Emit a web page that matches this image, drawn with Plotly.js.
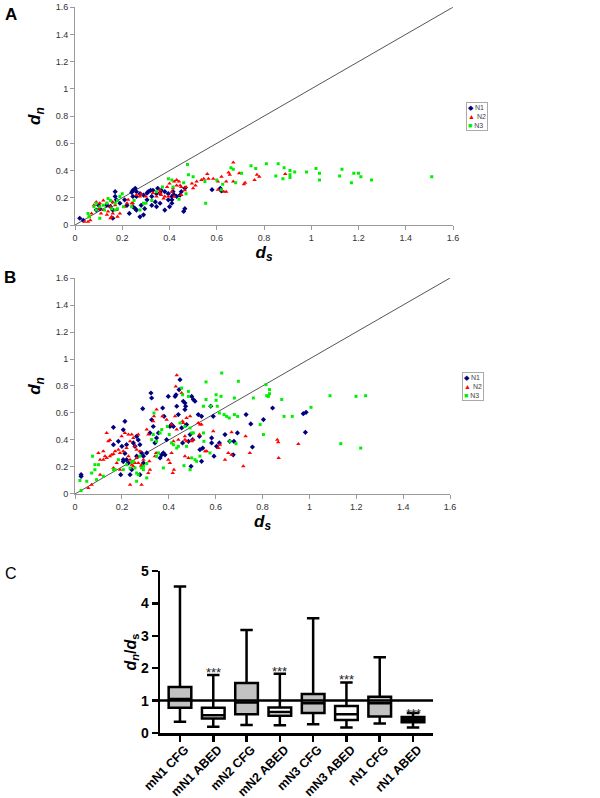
<!DOCTYPE html>
<html>
<head>
<meta charset="utf-8">
<script src="https://cdn.plot.ly/plotly-3.0.1.min.js"></script>
<style>html,body{margin:0;padding:0;background:#fff}#chart{width:600px;height:798px}</style>
</head>
<body>
<div id="chart"></div>
<script>
// ---------- Panel A data (ds, dn) ----------
const seriesNames = ['N1', 'N2', 'N3'];

const aN1x = [0.255,0.245,0.24,0.26,0.245,0.26,0.275,0.29,0.305,0.31,0.33,0.345,0.36,0.38,0.395,0.41,0.42,0.41,0.395,0.38,0.40,0.41,0.465,0.46,0.445,0.45,0.465,0.615,0.62,0.58,0.245,0.255,0.23,0.26,0.22,0.21,0.19,0.17,0.17,0.175,0.16,0.15,0.16,0.275,0.29,0.28,0.295,0.325,0.34,0.345,0.36,0.325,0.305,0.02,0.035,0.09,0.105,0.10,0.135,0.32,0.35,0.365,0.415,0.43];
const aN1y = [0.27,0.255,0.24,0.245,0.21,0.21,0.23,0.22,0.235,0.245,0.255,0.23,0.235,0.245,0.23,0.21,0.22,0.185,0.185,0.11,0.135,0.16,0.12,0.10,0.22,0.245,0.27,0.27,0.25,0.26,0.135,0.12,0.085,0.11,0.145,0.185,0.16,0.245,0.21,0.185,0.05,0.135,0.11,0.06,0.075,0.145,0.12,0.145,0.17,0.135,0.16,0.21,0.185,0.05,0.035,0.11,0.12,0.145,0.145,0.255,0.27,0.255,0.245,0.21];

const aN2x = [0.67,0.695,0.715,0.72,0.76,0.77,0.78,0.89,0.65,0.655,0.64,0.63,0.67,0.62,0.585,0.56,0.605,0.545,0.515,0.50,0.51,0.495,0.47,0.465,0.45,0.445,0.43,0.43,0.415,0.41,0.395,0.38,0.365,0.375,0.36,0.345,0.45,0.42,0.30,0.28,0.275,0.245,0.22,0.21,0.19,0.175,0.16,0.155,0.15,0.14,0.135,0.12,0.11,0.105,0.10,0.09,0.08,0.07,0.065,0.04,0.055,0.17,0.16,0.18,0.15,0.135,0.12,0.225,0.24,0.26,0.33,0.36,0.39,0.40,0.42,0.44,0.535,0.565,0.605,0.64];
const aN2y = [0.46,0.38,0.30,0.31,0.33,0.37,0.355,0.375,0.385,0.37,0.32,0.245,0.32,0.355,0.34,0.375,0.32,0.34,0.32,0.27,0.29,0.305,0.28,0.255,0.28,0.29,0.29,0.33,0.27,0.245,0.21,0.21,0.22,0.195,0.235,0.21,0.22,0.21,0.21,0.23,0.21,0.16,0.16,0.135,0.085,0.11,0.085,0.06,0.135,0.10,0.075,0.11,0.085,0.16,0.12,0.17,0.145,0.085,0.035,0.025,0.025,0.145,0.17,0.06,0.05,0.16,0.18,0.185,0.16,0.22,0.235,0.255,0.28,0.305,0.32,0.32,0.33,0.34,0.26,0.245];

const aN3x = [1.51,1.255,1.20,1.21,1.18,1.17,1.13,1.12,1.035,1.035,1.02,0.98,0.93,0.91,0.91,0.91,0.885,0.86,0.85,0.88,0.81,0.765,0.745,0.705,0.67,0.66,0.68,0.625,0.62,0.60,0.55,0.553,0.476,0.48,0.50,0.46,0.47,0.44,0.415,0.395,0.41,0.37,0.345,0.325,0.30,0.29,0.275,0.25,0.24,0.20,0.19,0.18,0.17,0.15,0.14,0.135,0.12,0.105,0.09,0.08,0.055,0.105,0.17,0.155,0.18,0.205,0.125,0.06,0.06,0.09];
const aN3y = [0.355,0.33,0.38,0.355,0.38,0.31,0.41,0.36,0.33,0.38,0.415,0.39,0.39,0.40,0.37,0.35,0.42,0.45,0.36,0.34,0.45,0.415,0.435,0.38,0.41,0.42,0.31,0.30,0.26,0.33,0.32,0.16,0.445,0.37,0.355,0.31,0.23,0.19,0.28,0.34,0.33,0.28,0.245,0.18,0.16,0.16,0.11,0.18,0.135,0.23,0.21,0.18,0.16,0.18,0.195,0.16,0.145,0.135,0.16,0.135,0.085,0.05,0.11,0.12,0.12,0.135,0.11,0.06,0.06,0.11];

// ---------- Panel B data (ds, dn) ----------
const bN1x = [0.026,0.026,0.164,0.185,0.164,0.20,0.195,0.22,0.213,0.206,0.206,0.22,0.228,0.235,0.242,0.249,0.256,0.263,0.27,0.277,0.284,0.292,0.289,0.263,0.277,0.292,0.306,0.32,0.324,0.327,0.327,0.334,0.341,0.348,0.356,0.363,0.37,0.377,0.384,0.374,0.38,0.391,0.398,0.405,0.412,0.42,0.427,0.431,0.434,0.441,0.444,0.448,0.455,0.459,0.462,0.469,0.472,0.469,0.476,0.484,0.491,0.498,0.505,0.512,0.502,0.495,0.526,0.531,0.533,0.54,0.545,0.54,0.579,0.583,0.583,0.59,0.593,0.604,0.616,0.64,0.66,0.675,0.693,0.678,0.73,0.75,0.757,0.804,0.843,0.974,0.986,0.983,0.213,0.206];
const bN1y = [0.143,0.13,0.494,0.39,0.365,0.353,0.143,0.365,0.30,0.254,0.24,0.254,0.23,0.143,0.18,0.378,0.353,0.427,0.40,0.365,0.304,0.28,0.632,0.28,0.143,0.23,0.304,0.452,0.748,0.711,0.55,0.50,0.378,0.415,0.452,0.267,0.29,0.304,0.29,0.637,0.575,0.402,0.723,0.50,0.514,0.50,0.723,0.735,0.65,0.588,0.773,0.847,0.489,0.378,0.687,0.674,0.65,0.625,0.514,0.39,0.44,0.723,0.70,0.687,0.402,0.205,0.588,0.427,0.328,0.242,0.34,0.575,0.65,0.415,0.378,0.575,0.28,0.353,0.378,0.44,0.39,0.29,0.452,0.39,0.588,0.519,0.348,0.551,0.637,0.595,0.605,0.457,0.538,0.475];

const bN2x = [0.434,0.43,0.455,0.427,0.412,0.135,0.142,0.149,0.121,0.10,0.107,0.121,0.128,0.135,0.149,0.156,0.164,0.171,0.185,0.199,0.213,0.228,0.242,0.249,0.256,0.263,0.27,0.277,0.192,0.206,0.22,0.228,0.235,0.242,0.235,0.249,0.256,0.263,0.27,0.284,0.282,0.292,0.178,0.164,0.192,0.107,0.071,0.057,0.235,0.284,0.306,0.313,0.334,0.337,0.317,0.313,0.32,0.346,0.341,0.348,0.373,0.391,0.398,0.405,0.412,0.42,0.422,0.417,0.434,0.441,0.459,0.462,0.476,0.469,0.469,0.476,0.469,0.484,0.491,0.498,0.505,0.526,0.533,0.54,0.531,0.555,0.562,0.59,0.612,0.619,0.64,0.654,0.668,0.668,0.728,0.718,0.746,0.863,0.867,0.869,0.953];
const bN2y = [0.88,0.797,0.748,0.575,0.514,0.452,0.39,0.40,0.316,0.304,0.254,0.254,0.28,0.267,0.28,0.29,0.296,0.316,0.328,0.427,0.452,0.44,0.44,0.415,0.353,0.328,0.44,0.316,0.304,0.316,0.34,0.28,0.254,0.217,0.39,0.205,0.23,0.267,0.23,0.217,0.205,0.254,0.23,0.193,0.18,0.143,0.069,0.044,0.069,0.069,0.477,0.44,0.538,0.575,0.242,0.155,0.18,0.304,0.28,0.625,0.575,0.55,0.254,0.23,0.304,0.39,0.18,0.155,0.477,0.402,0.538,0.526,0.563,0.427,0.402,0.39,0.28,0.267,0.575,0.39,0.402,0.526,0.514,0.514,0.44,0.316,0.316,0.464,0.34,0.365,0.254,0.304,0.29,0.457,0.427,0.205,0.304,0.402,0.383,0.267,0.37];

const bN3x = [0.021,0.026,0.05,0.071,0.075,0.085,0.085,0.092,0.10,0.121,0.164,0.171,0.185,0.206,0.22,0.235,0.242,0.249,0.256,0.263,0.263,0.27,0.277,0.284,0.292,0.292,0.306,0.306,0.327,0.334,0.337,0.348,0.348,0.356,0.363,0.37,0.377,0.394,0.402,0.412,0.42,0.434,0.441,0.448,0.455,0.459,0.465,0.469,0.476,0.484,0.484,0.491,0.491,0.498,0.498,0.505,0.512,0.519,0.533,0.548,0.548,0.55,0.559,0.559,0.576,0.579,0.602,0.602,0.607,0.616,0.623,0.626,0.636,0.647,0.658,0.661,0.68,0.68,0.697,0.694,0.687,0.761,0.79,0.804,0.815,0.818,0.83,0.83,0.825,0.882,0.892,0.927,1.007,1.088,1.199,1.24,1.134,1.219];
const bN3y = [0.10,0.025,0.094,0.155,0.28,0.217,0.18,0.106,0.217,0.131,0.18,0.18,0.254,0.18,0.217,0.193,0.235,0.242,0.193,0.155,0.094,0.143,0.28,0.193,0.18,0.205,0.119,0.225,0.402,0.44,0.60,0.39,0.28,0.304,0.452,0.477,0.193,0.50,0.44,0.378,0.365,0.34,0.353,0.526,0.785,0.735,0.21,0.50,0.353,0.76,0.723,0.489,0.18,0.267,0.452,0.452,0.254,0.242,0.28,0.65,0.452,0.39,0.83,0.70,0.304,0.65,0.735,0.694,0.65,0.60,0.723,0.896,0.588,0.575,0.563,0.39,0.711,0.588,0.835,0.575,0.373,0.711,0.514,0.44,0.81,0.728,0.773,0.743,0.723,0.70,0.575,0.575,0.642,0.728,0.723,0.728,0.373,0.34];

// diagonal reference (dn = ds)
const diagX = [0, 1.6];
const diagY = [0, 1.6];

// ---------- Panel C data (dn/ds box summaries) ----------
const boxCats = ['mN1 CFG','mN1 ABED','mN2 CFG','mN2 ABED','mN3 CFG','mN3 ABED','rN1 CFG','rN1 ABED'];
const boxLow  = [0.35, 0.19, 0.25, 0.24, 0.27, 0.17, 0.29, 0.17];
const boxQ1   = [0.78, 0.45, 0.58, 0.53, 0.62, 0.40, 0.51, 0.33];
const boxMed  = [1.05, 0.55, 0.94, 0.65, 0.92, 0.58, 0.92, 0.41];
const boxQ3   = [1.42, 0.78, 1.54, 0.79, 1.20, 0.83, 1.12, 0.49];
const boxHigh = [4.52, 1.79, 3.18, 1.83, 3.54, 1.56, 2.34, 0.62];
const sigCats = ['mN1 ABED','mN2 ABED','mN3 ABED','rN1 ABED'];
const sigY    = [1.95, 1.98, 1.75, 0.71];
const sigText = '***';
const refLine = 1;

// ---------- styles ----------
const FONT = 'Liberation Sans, Arial, Helvetica, sans-serif';
const seriesStyle = {
  N1: {color: '#000080', symbol: 'diamond', size: 4},
  N2: {color: '#ff0000', symbol: 'triangle-up', size: 4},
  N3: {color: '#00ee00', symbol: 'square', size: 3}
};
const legendGlyph = {N1: '\u25C6', N2: '\u25B2', N3: '\u25A0'};

function scatterTrace(name, x, y, xa, ya) {
  const s = seriesStyle[name];
  return {type: 'scatter', mode: 'markers', name: name, x: x, y: y, xaxis: xa, yaxis: ya,
    marker: {color: s.color, symbol: s.symbol, size: s.size, line: {width: 0}},
    showlegend: false, hoverinfo: 'x+y'};
}
function diagTrace(xa, ya) {
  return {type: 'scatter', mode: 'lines', x: diagX, y: diagY, xaxis: xa, yaxis: ya,
    line: {color: '#555555', width: 1}, showlegend: false, hoverinfo: 'skip'};
}

const traces = [
  diagTrace('x', 'y'),
  scatterTrace('N1', aN1x, aN1y, 'x', 'y'),
  scatterTrace('N2', aN2x, aN2y, 'x', 'y'),
  scatterTrace('N3', aN3x, aN3y, 'x', 'y'),
  diagTrace('x2', 'y2'),
  scatterTrace('N1', bN1x, bN1y, 'x2', 'y2'),
  scatterTrace('N2', bN2x, bN2y, 'x2', 'y2'),
  scatterTrace('N3', bN3x, bN3y, 'x2', 'y2')
];

boxCats.forEach(function (c, i) {
  let fill = '#ffffff';
  if (c.indexOf('CFG') >= 0) fill = '#c2c2c2';
  else if (c.indexOf('rN1') === 0) fill = '#222222';
  traces.push({
    type: 'box', name: c, x: [c], q1: [boxQ1[i]], median: [boxMed[i]], q3: [boxQ3[i]],
    lowerfence: [boxLow[i]], upperfence: [boxHigh[i]],
    xaxis: 'x3', yaxis: 'y3', width: 0.68, whiskerwidth: 0.55,
    fillcolor: fill, line: {color: '#000000', width: 2.5},
    boxpoints: false, showlegend: false, hoverinfo: 'y'
  });
});

function scatAxis(domain, anchor) {
  return {domain: domain, anchor: anchor, range: [0, 1.6], dtick: 0.2, tick0: 0,
    showgrid: false, zeroline: false, showline: true, linecolor: '#9a9a9a', linewidth: 1,
    ticks: 'outside', ticklen: 4, tickcolor: '#9a9a9a', tickwidth: 1,
    tickfont: {family: FONT, size: 9, color: '#333333'}};
}

const xA = scatAxis([0.125, 0.755], 'y');
xA.title = {text: '<b><i>d<sub>s</sub></i></b>', font: {family: FONT, size: 17, color: '#000'}, standoff: 2};
const yA = scatAxis([0.718, 0.991], 'x');
yA.title = {text: '<b><i>d<sub>n</sub></i></b>', font: {family: FONT, size: 17, color: '#000'}, standoff: 10};
const xB = scatAxis([0.125, 0.75], 'y2');
xB.title = {text: '<b><i>d<sub>s</sub></i></b>', font: {family: FONT, size: 17, color: '#000'}, standoff: 2};
const yB = scatAxis([0.381, 0.6516], 'x2');
yB.title = {text: '<b><i>d<sub>n</sub></i></b>', font: {family: FONT, size: 17, color: '#000'}, standoff: 10};

function legendText() {
  return seriesNames.map(function (n) {
    return '<span style="color:' + seriesStyle[n].color + '">' + legendGlyph[n] + '</span> ' + n;
  }).join('<br>');
}

const annotations = [
  {xref: 'paper', yref: 'paper', x: 3/600, y: 1 - 14/798, xanchor: 'left', yanchor: 'middle', text: '<b>A</b>', showarrow: false, font: {family: FONT, size: 17, color: '#000'}},
  {xref: 'paper', yref: 'paper', x: 2/600, y: 1 - 277/798, xanchor: 'left', yanchor: 'middle', text: '<b>B</b>', showarrow: false, font: {family: FONT, size: 17, color: '#000'}},
  {xref: 'paper', yref: 'paper', x: 3/600, y: 1 - 573/798, xanchor: 'left', yanchor: 'middle', text: 'C', showarrow: false, font: {family: FONT, size: 16, color: '#000'}},
  {xref: 'paper', yref: 'paper', x: 466/600, y: 1 - 102/798, xanchor: 'left', yanchor: 'top', align: 'left', text: legendText(), showarrow: false,
    font: {family: FONT, size: 7, color: '#444'}, bordercolor: '#aaaaaa', borderwidth: 1, borderpad: 1, bgcolor: '#fff'},
  {xref: 'paper', yref: 'paper', x: 462/600, y: 1 - 372/798, xanchor: 'left', yanchor: 'top', align: 'left', text: legendText(), showarrow: false,
    font: {family: FONT, size: 7, color: '#444'}, bordercolor: '#aaaaaa', borderwidth: 1, borderpad: 1, bgcolor: '#fff'}
];
sigCats.forEach(function (c, i) {
  annotations.push({xref: 'x3', yref: 'y3', x: c, y: sigY[i], text: sigText, showarrow: false,
    xanchor: 'center', yanchor: 'middle', yshift: -3, font: {family: FONT, size: 13, color: '#222'}});
});

const layout = {
  width: 600, height: 798, margin: {l: 0, r: 0, t: 0, b: 0},
  paper_bgcolor: '#ffffff', plot_bgcolor: '#ffffff',
  showlegend: false, boxmode: 'overlay',
  font: {family: FONT},
  xaxis: xA, yaxis: yA, xaxis2: xB, yaxis2: yB,
  xaxis3: {domain: [160/600, 433/600], anchor: 'y3', type: 'category', range: [-0.6, 7.6],
    showgrid: false, zeroline: false, showline: true, linecolor: '#000', linewidth: 2.5,
    ticks: 'outside', ticklen: 6, tickwidth: 2.5, tickcolor: '#000', tickangle: -45,
    ticklabelstandoff: -4, ticklabelshift: 5,
    tickfont: {family: FONT, size: 12.5, weight: 'bold', color: '#000'}},
  yaxis3: {domain: [1 - 733/798, 1 - 571/798], anchor: 'x3', range: [0, 5], dtick: 1,
    showgrid: false, zeroline: false, showline: true, linecolor: '#000', linewidth: 2.5,
    ticks: 'outside', ticklen: 6, tickwidth: 2.5, tickcolor: '#000',
    tickfont: {family: FONT, size: 14, weight: 'bold', color: '#000'},
    title: {text: '<b><i>d<sub>n</sub></i>/<i>d</i><sub>s</sub></b>', font: {family: FONT, size: 16, color: '#000'}, standoff: 0}},
  shapes: [
    {type: 'line', xref: 'x3 domain', yref: 'y3', x0: 0, x1: 1, y0: refLine, y1: refLine,
     line: {color: '#000', width: 2.5}, layer: 'above'}
  ],
  annotations: annotations
};

Plotly.newPlot('chart', traces, layout, {displayModeBar: false, staticPlot: true});
</script>
</body>
</html>
